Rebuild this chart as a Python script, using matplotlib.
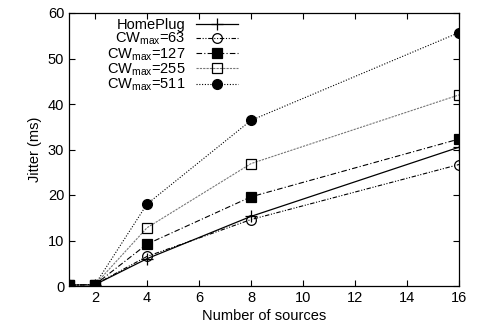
import matplotlib
matplotlib.use("Agg")
import matplotlib.pyplot as plt

plt.rcParams['font.family'] = ['Liberation Sans', 'DejaVu Sans']
plt.rcParams['mathtext.fontset'] = 'custom'
plt.rcParams['mathtext.rm'] = 'Liberation Sans'
plt.rcParams['mathtext.it'] = 'Liberation Sans'

sources = [1, 2, 4, 8, 16]
homeplug = [0.2, 0.3, 6.0, 15.3, 30.5]
cw63 = [0.2, 0.3, 6.5, 14.6, 26.7]
cw127 = [0.2, 0.3, 9.2, 19.6, 32.3]
cw255 = [0.2, 0.3, 12.8, 26.9, 42.0]
cw511 = [0.2, 0.3, 18.0, 36.4, 55.7]

labels = ['HomePlug', r'CW$_{\mathrm{max}}$=63', r'CW$_{\mathrm{max}}$=127',
          r'CW$_{\mathrm{max}}$=255', r'CW$_{\mathrm{max}}$=511']
xticks = [2, 4, 6, 8, 10, 12, 14, 16]
yticks = [0, 10, 20, 30, 40, 50, 60]

fig = plt.figure(figsize=(4.79, 3.36), dpi=100)
ax = fig.add_axes([69/479, 1-286/336, 390/479, 273/336])

ax.plot(sources, homeplug, color='black', lw=0.9, ls='-', marker='+', ms=8, mew=0.9, label=labels[0], zorder=3)
ax.plot(sources, cw63, color='black', lw=0.8, ls=(0, (4, 1.5, 1, 1.5, 1, 1.5)), marker='o', ms=7, mfc='none', mew=0.9, label=labels[1], zorder=3)
ax.plot(sources, cw127, color='black', lw=0.8, ls=(0, (5, 2, 1, 2)), marker='s', ms=7, mew=0.9, label=labels[2], zorder=5)
ax.plot(sources, cw255, color='#777777', lw=0.8, ls=(0, (2, 1)), marker='s', ms=7, mfc='none', mec='black', mew=0.9, label=labels[3], zorder=3)
ax.plot(sources, cw511, color='black', lw=0.8, ls=(0, (1, 1.5)), marker='o', ms=7, label=labels[4], zorder=4)

ax.set_xlim(1, 16)
ax.set_ylim(0, 60)
ax.set_xticks(xticks)
ax.set_yticks(yticks)
ax.tick_params(direction='in', top=True, right=True, labelsize=10.5, length=4, width=0.8)
for s in ax.spines.values():
    s.set_linewidth(0.9)
ax.set_xlabel('Number of sources', fontsize=10.5, labelpad=3)
ax.set_ylabel('Jitter (ms)', fontsize=10.5, labelpad=4)

leg = ax.legend(loc='upper left', bbox_to_anchor=(0.085, 1.0), markerfirst=False, frameon=False,
                fontsize=10.5, handlelength=2.9, handletextpad=0.68, labelspacing=-0.08,
                borderaxespad=0.1, borderpad=0.25)

fig.savefig('out.png', dpi=100)
